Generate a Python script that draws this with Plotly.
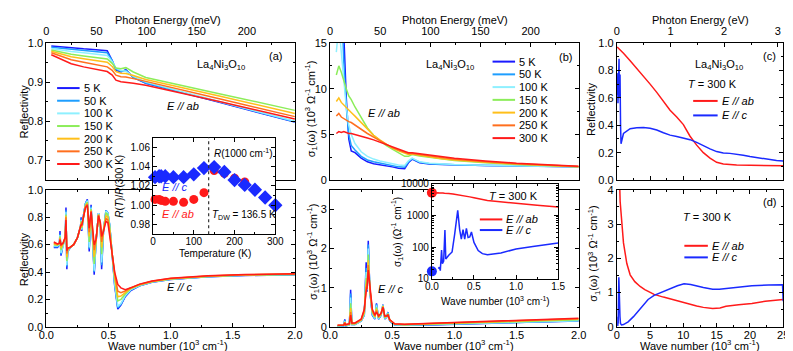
import plotly.graph_objects as go

FIG_W, FIG_H = 793, 351
FONT = "Liberation Sans, Arial, sans-serif"

TEMPS = ["5 K", "50 K", "100 K", "150 K", "200 K", "250 K", "300 K"]
T_COLORS = ["#1a1aff", "#1e9eff", "#8ef0ff", "#8ced5a", "#ffbf1a", "#ff6f1e", "#ff1a1a"]
RED = "#ff1a1a"
BLUE = "#1a2aff"

MEV_PER_KCM = 123.98   # 10^3 cm^-1 -> meV
EV_PER_KCM = 0.12398   # 10^3 cm^-1 -> eV

# ---------------- (a) top: reflectivity E // ab ----------------
RAB_X = [0.04, 0.1, 0.2, 0.3, 0.4, 0.49, 0.53, 0.56, 0.6, 0.64, 0.7, 0.8, 1.4, 2.0]
RAB_5K = [0.992, 0.990, 0.987, 0.985, 0.983, 0.980, 0.955, 0.930, 0.926, 0.932, 0.912, 0.897, 0.848, 0.798]
RAB_50K = [0.989, 0.987, 0.983, 0.980, 0.978, 0.975, 0.955, 0.933, 0.928, 0.930, 0.912, 0.898, 0.849, 0.799]
RAB_100K = [0.986, 0.983, 0.978, 0.975, 0.971, 0.968, 0.952, 0.936, 0.930, 0.928, 0.915, 0.900, 0.850, 0.800]
RAB_150K = [0.982, 0.978, 0.971, 0.967, 0.962, 0.959, 0.948, 0.936, 0.934, 0.937, 0.926, 0.912, 0.870, 0.828]
RAB_200K = [0.979, 0.974, 0.965, 0.960, 0.955, 0.951, 0.940, 0.927, 0.923, 0.922, 0.917, 0.907, 0.864, 0.820]
RAB_250K = [0.975, 0.969, 0.957, 0.951, 0.945, 0.939, 0.930, 0.918, 0.914, 0.913, 0.909, 0.902, 0.857, 0.812]
RAB_300K = [0.970, 0.962, 0.947, 0.939, 0.932, 0.927, 0.918, 0.905, 0.901, 0.900, 0.897, 0.892, 0.850, 0.806]
RAB = [RAB_5K, RAB_50K, RAB_100K, RAB_150K, RAB_200K, RAB_250K, RAB_300K]

# ---------------- (a) bottom: reflectivity E // c ----------------
RC_X = [0.06, 0.09, 0.105, 0.11, 0.118, 0.135, 0.152, 0.158, 0.165, 0.172, 0.19, 0.22, 0.25, 0.275,
        0.28, 0.285, 0.30, 0.315, 0.33, 0.345, 0.36, 0.385, 0.40, 0.42, 0.435, 0.445, 0.46, 0.48,
        0.495, 0.51, 0.53, 0.55, 0.575, 0.60, 0.635, 0.68, 0.75, 0.85, 1.0, 1.3, 1.6, 2.0]
RC_5K = [0.58, 0.58, 0.60, 0.70, 0.52, 0.60, 0.64, 0.87, 0.42, 0.55, 0.575, 0.60, 0.65, 0.73, 0.80, 0.70,
         0.82, 0.90, 0.93, 0.55, 0.89, 0.38, 0.62, 0.83, 0.72, 0.42, 0.70, 0.85, 0.83, 0.74, 0.52, 0.30,
         0.13, 0.16, 0.22, 0.265, 0.30, 0.325, 0.345, 0.365, 0.375, 0.38]
RC_50K = [0.585, 0.585, 0.60, 0.68, 0.53, 0.60, 0.64, 0.85, 0.44, 0.55, 0.575, 0.60, 0.65, 0.73, 0.79, 0.71,
          0.82, 0.90, 0.925, 0.57, 0.88, 0.40, 0.62, 0.83, 0.72, 0.45, 0.70, 0.85, 0.83, 0.745, 0.53, 0.31,
          0.14, 0.165, 0.225, 0.27, 0.30, 0.327, 0.347, 0.366, 0.376, 0.381]
RC_100K = [0.59, 0.59, 0.60, 0.67, 0.54, 0.60, 0.64, 0.84, 0.45, 0.555, 0.578, 0.60, 0.65, 0.73, 0.78, 0.71,
           0.82, 0.895, 0.92, 0.58, 0.87, 0.41, 0.62, 0.83, 0.72, 0.47, 0.70, 0.845, 0.83, 0.745, 0.53, 0.32,
           0.15, 0.17, 0.23, 0.272, 0.302, 0.328, 0.348, 0.367, 0.377, 0.382]
RC_150K = [0.60, 0.595, 0.605, 0.66, 0.56, 0.605, 0.645, 0.82, 0.48, 0.56, 0.58, 0.60, 0.65, 0.73, 0.77, 0.72,
           0.82, 0.89, 0.91, 0.62, 0.86, 0.46, 0.63, 0.82, 0.73, 0.53, 0.71, 0.83, 0.82, 0.73, 0.53, 0.35,
           0.19, 0.20, 0.24, 0.278, 0.305, 0.33, 0.35, 0.368, 0.378, 0.383]
RC_200K = [0.605, 0.60, 0.607, 0.65, 0.575, 0.607, 0.648, 0.81, 0.51, 0.565, 0.58, 0.60, 0.65, 0.725, 0.76, 0.73,
           0.81, 0.88, 0.90, 0.66, 0.85, 0.51, 0.63, 0.82, 0.74, 0.58, 0.71, 0.81, 0.80, 0.71, 0.53, 0.37,
           0.22, 0.225, 0.25, 0.282, 0.307, 0.331, 0.352, 0.37, 0.38, 0.385]
RC_250K = [0.612, 0.603, 0.608, 0.642, 0.59, 0.61, 0.652, 0.80, 0.535, 0.57, 0.58, 0.60, 0.65, 0.72, 0.75, 0.74,
           0.80, 0.875, 0.895, 0.69, 0.845, 0.56, 0.635, 0.815, 0.75, 0.62, 0.70, 0.79, 0.78, 0.69, 0.53, 0.39,
           0.26, 0.25, 0.262, 0.287, 0.31, 0.333, 0.354, 0.372, 0.381, 0.386]
RC_300K = [0.62, 0.605, 0.61, 0.635, 0.60, 0.612, 0.655, 0.78, 0.555, 0.575, 0.58, 0.60, 0.65, 0.72, 0.745, 0.74,
           0.80, 0.87, 0.885, 0.72, 0.84, 0.60, 0.64, 0.81, 0.76, 0.66, 0.70, 0.77, 0.76, 0.66, 0.53, 0.40,
           0.31, 0.285, 0.272, 0.285, 0.312, 0.335, 0.355, 0.373, 0.382, 0.387]
RC = [RC_5K, RC_50K, RC_100K, RC_150K, RC_200K, RC_250K, RC_300K]

# ---------------- (a) inset: R(T)/R(300 K) at 1000 cm-1 ----------------
INS_T = [5, 15, 20, 30, 50, 75, 100, 125, 150, 175, 200, 225, 250, 275, 300]
INS_AB = [1.006, 1.006, 1.005, 1.004, 1.004, 1.003, 1.006, 1.013, 1.036, 1.033, 1.028, 1.024, 1.016, 1.008, 1.000]
INS_C = [1.029, 1.030, 1.030, 1.030, 1.029, 1.029, 1.032, 1.0385, 1.0395, 1.0345, 1.026, 1.021, 1.016, 1.008, 1.000]
T_DW = 136.5

# ---------------- (b) top: sigma1 E // ab (10^3 Ohm^-1 cm^-1) ----------------
SAB_X = [0.05, 0.07, 0.09, 0.11, 0.13, 0.15, 0.17, 0.2, 0.25, 0.3, 0.35, 0.4, 0.45, 0.5, 0.55, 0.6,
         0.63, 0.66, 0.72, 0.8, 0.9, 1.0, 1.25, 1.5, 2.0]
SAB_5K = [40, 32, 22, 16, 9.0, 4.5, 3.2, 3.0, 2.4, 2.0, 1.8, 1.7, 1.6, 1.45, 1.3, 1.25, 1.9, 2.3, 1.9,
          1.75, 1.7, 1.65, 1.6, 1.55, 1.45]
SAB_50K = [35, 28, 19, 13, 8.0, 5.0, 3.8, 3.3, 2.6, 2.2, 2.0, 1.85, 1.75, 1.6, 1.45, 1.4, 2.0, 2.35, 1.95,
           1.8, 1.72, 1.67, 1.6, 1.55, 1.45]
SAB_100K = [14, 17, 14, 11, 8.0, 6.0, 5.0, 4.0, 3.1, 2.6, 2.3, 2.1, 1.95, 1.8, 1.65, 1.6, 2.1, 2.4, 2.0,
            1.85, 1.75, 1.7, 1.62, 1.56, 1.46]
SAB_150K = [11.5, 12.5, 11.8, 10.8, 10.0, 9.2, 8.8, 8.0, 6.8, 5.7, 4.9, 4.3, 3.8, 3.4, 3.0, 2.6, 2.6, 2.8,
            2.65, 2.5, 2.3, 2.15, 1.9, 1.7, 1.45]
SAB_200K = [8.6, 9.0, 8.5, 8.2, 8.0, 7.7, 7.4, 7.0, 6.3, 5.6, 4.9, 4.4, 3.9, 3.5, 3.2, 2.9, 2.8, 2.85,
            2.75, 2.55, 2.35, 2.2, 1.95, 1.75, 1.47]
SAB_250K = [7.0, 7.3, 6.9, 6.7, 6.5, 6.4, 6.3, 6.0, 5.6, 5.1, 4.7, 4.3, 3.9, 3.55, 3.3, 3.0, 2.9, 2.9,
            2.8, 2.62, 2.42, 2.27, 2.0, 1.8, 1.5]
SAB_300K = [5.1, 5.3, 5.2, 5.3, 5.2, 5.1, 5.1, 5.0, 4.8, 4.6, 4.4, 4.15, 3.9, 3.65, 3.4, 3.15, 3.0, 3.0,
            2.9, 2.75, 2.55, 2.4, 2.1, 1.85, 1.52]
SAB = [SAB_5K, SAB_50K, SAB_100K, SAB_150K, SAB_200K, SAB_250K, SAB_300K]

# ---------------- (b) bottom: sigma1 E // c ----------------
SC_X = [0.06, 0.11, 0.118, 0.125, 0.155, 0.165, 0.175, 0.2, 0.25, 0.275, 0.29, 0.297, 0.307, 0.32, 0.34,
        0.36, 0.373, 0.39, 0.41, 0.425, 0.44, 0.455, 0.465, 0.48, 0.52, 0.6, 0.8, 1.0, 1.5, 2.0]
SC_5K = [0.02, 0.03, 0.19, 0.03, 0.05, 0.95, 0.06, 0.06, 0.15, 0.3, 1.65, 0.9, 2.2, 0.9, 0.3, 0.2, 0.6,
         0.2, 0.3, 0.57, 0.2, 0.25, 0.38, 0.15, 0.05, 0.04, 0.05, 0.07, 0.11, 0.15]
SC_50K = [0.02, 0.03, 0.17, 0.03, 0.05, 0.85, 0.06, 0.06, 0.15, 0.31, 1.5, 0.92, 2.1, 0.92, 0.31, 0.21,
          0.58, 0.2, 0.3, 0.56, 0.21, 0.25, 0.37, 0.15, 0.05, 0.045, 0.055, 0.075, 0.115, 0.155]
SC_100K = [0.025, 0.035, 0.15, 0.035, 0.055, 0.75, 0.065, 0.065, 0.16, 0.32, 1.4, 0.95, 2.0, 0.93, 0.33,
           0.22, 0.55, 0.21, 0.31, 0.55, 0.22, 0.26, 0.36, 0.16, 0.055, 0.05, 0.06, 0.08, 0.12, 0.16]
SC_150K = [0.03, 0.04, 0.13, 0.045, 0.06, 0.6, 0.075, 0.075, 0.17, 0.35, 1.25, 0.97, 1.85, 0.95, 0.36,
           0.24, 0.5, 0.23, 0.32, 0.54, 0.24, 0.27, 0.34, 0.17, 0.065, 0.055, 0.07, 0.09, 0.14, 0.18]
SC_200K = [0.035, 0.045, 0.12, 0.05, 0.07, 0.48, 0.085, 0.085, 0.18, 0.38, 1.1, 0.98, 1.7, 0.97, 0.39,
           0.26, 0.46, 0.25, 0.33, 0.53, 0.26, 0.27, 0.32, 0.175, 0.07, 0.06, 0.08, 0.1, 0.155, 0.2]
SC_250K = [0.04, 0.05, 0.11, 0.055, 0.075, 0.38, 0.09, 0.09, 0.19, 0.42, 1.0, 0.99, 1.58, 0.98, 0.42,
           0.28, 0.42, 0.27, 0.34, 0.51, 0.27, 0.28, 0.31, 0.18, 0.075, 0.065, 0.085, 0.105, 0.165, 0.21]
SC_300K = [0.04, 0.05, 0.1, 0.06, 0.08, 0.3, 0.1, 0.1, 0.2, 0.45, 0.9, 1.0, 1.45, 1.0, 0.45, 0.3, 0.38,
           0.28, 0.35, 0.5, 0.28, 0.28, 0.3, 0.18, 0.08, 0.07, 0.09, 0.11, 0.17, 0.22]
SC = [SC_5K, SC_50K, SC_100K, SC_150K, SC_200K, SC_250K, SC_300K]

# ---------------- (b) inset: sigma1 at 300 K, log scale (Ohm^-1 cm^-1) ----------------
SIG_DC_AB = 5300
SIG_DC_C = 17
SCI_X = [0.075, 0.09, 0.1, 0.115, 0.125, 0.14, 0.155, 0.165, 0.2, 0.24, 0.27, 0.29, 0.307, 0.33, 0.35,
         0.37, 0.39, 0.41, 0.43, 0.45, 0.47, 0.5, 0.55, 0.6, 0.66, 0.82, 1.0, 1.2, 1.5]
SCI_Y = [21, 23, 18, 80, 30, 36, 350, 42, 55, 70, 250, 800, 1450, 360, 180, 360, 180, 390, 200, 210,
         300, 140, 78, 62, 57, 65, 87, 105, 135]

# ---------------- (c) reflectivity at 300 K, 0-25 x10^3 cm-1 ----------------
C_AB_X = [0.05, 0.5, 1, 2, 3, 4, 5, 6, 7, 8, 9, 10, 11, 12, 13, 14, 15, 16, 18, 20, 22, 24, 25]
C_AB_R = [0.97, 0.95, 0.925, 0.87, 0.815, 0.76, 0.70, 0.64, 0.575, 0.51, 0.46, 0.405, 0.32, 0.255, 0.2,
          0.16, 0.13, 0.117, 0.11, 0.108, 0.105, 0.102, 0.105]
C_C_X = [0.06, 0.16, 0.17, 0.33, 0.38, 0.48, 0.56, 0.63, 1.0, 2, 3, 4, 5, 6, 7, 8, 9, 10, 11, 12, 13, 14,
         15, 16, 17, 18, 19, 20, 21, 22, 23, 24, 25]
C_C_R = [0.62, 0.78, 0.56, 0.885, 0.60, 0.77, 0.40, 0.265, 0.34, 0.375, 0.382, 0.383, 0.378, 0.365, 0.345,
         0.328, 0.318, 0.308, 0.295, 0.275, 0.25, 0.228, 0.208, 0.198, 0.195, 0.19, 0.182, 0.172, 0.165,
         0.157, 0.148, 0.143, 0.14]

# ---------------- (d) sigma1 at 300 K, 0-25 x10^3 cm-1 ----------------
D_AB_X = [0.05, 0.3, 0.5, 0.75, 1.0, 1.5, 2.0, 2.7, 3.5, 4.2, 5.6, 7, 8.1, 9.5, 10.5, 12, 13, 14.4, 15.5,
          16.4, 18.3, 20.3, 22.3, 24, 25]
D_AB_S = [5.2, 5.0, 3.65, 3.0, 2.45, 1.85, 1.52, 1.32, 1.18, 1.09, 0.95, 0.87, 0.81, 0.73, 0.67, 0.61,
          0.57, 0.54, 0.55, 0.6, 0.65, 0.68, 0.75, 0.77, 0.8]
D_C_X = [0.06, 0.15, 0.17, 0.2, 0.3, 0.37, 0.42, 0.47, 0.55, 0.7, 1.0, 1.7, 2.5, 3.2, 4.0, 4.7, 5.6, 7.1,
         9.1, 10.1, 11.1, 13, 14.4, 15.4, 17.9, 20.3, 22.8, 24.9, 25]
D_C_S = [0.04, 0.05, 0.3, 0.1, 1.45, 0.3, 0.5, 0.3, 0.1, 0.06, 0.07, 0.15, 0.3, 0.47, 0.64, 0.8, 0.92,
         1.05, 1.2, 1.26, 1.24, 1.15, 1.1, 1.1, 1.16, 1.2, 1.22, 1.23, 0.75]


# ---------------- helpers (pixel -> paper) ----------------
def fx(px):
    return px / FIG_W


def fy(py):
    return 1 - py / FIG_H


A_X = [fx(31), fx(285)]
B_X = [fx(321), fx(575)]
C_X = [fx(614), fx(784)]
UP_Y = [fy(172), fy(30)]
LO_Y = [fy(324), fy(182)]
INA_X = [fx(140), fx(265)]
INA_Y = [fy(228), fy(128)]
INB_X = [fx(425), fx(554)]
INB_Y = [fy(274), fy(176)]

TICK_FONT = dict(family=FONT, size=11, color="black")
INSET_TICK_FONT = dict(family=FONT, size=10, color="black")


def axis(minor_dtick=None, font=TICK_FONT, **kw):
    d = dict(showline=True, linecolor="black", linewidth=1, ticks="inside", ticklen=4,
             tickwidth=1, tickcolor="black", showgrid=False, zeroline=False, tickfont=font,
             mirror="ticks")
    if minor_dtick is not None:
        d["minor"] = dict(ticks="inside", ticklen=2, tickcolor="black", dtick=minor_dtick, showgrid=False)
    d.update(kw)
    return d


fig = go.Figure()


def line(x, y, xa, ya, color, name, width=1.5):
    fig.add_trace(go.Scatter(x=x, y=y, xaxis=xa, yaxis=ya, mode="lines", name=name,
                             line=dict(color=color, width=width), showlegend=False))


for i in range(7):
    line(RAB_X, RAB[i], "x", "y", T_COLORS[i], TEMPS[i])
for i in range(7):
    line(RC_X, RC[i], "x2", "y2", T_COLORS[i], TEMPS[i])
for i in range(7):
    line(SAB_X, SAB[i], "x3", "y3", T_COLORS[i], TEMPS[i])
for i in range(7):
    line(SC_X, SC[i], "x4", "y4", T_COLORS[i], TEMPS[i])

line(C_AB_X, C_AB_R, "x5", "y5", RED, "E // ab")
line(C_C_X, C_C_R, "x5", "y5", BLUE, "E // c")
line(D_AB_X, D_AB_S, "x6", "y6", RED, "E // ab")
line(D_C_X, D_C_S, "x6", "y6", BLUE, "E // c")

# inset (a)
fig.add_trace(go.Scatter(x=INS_T, y=INS_AB, xaxis="x7", yaxis="y7", mode="markers", cliponaxis=False,
                         marker=dict(symbol="circle", size=9, color=RED), showlegend=False, name="E // ab"))
fig.add_trace(go.Scatter(x=INS_T, y=INS_C, xaxis="x7", yaxis="y7", mode="markers", cliponaxis=False,
                         marker=dict(symbol="diamond", size=11, color=BLUE), showlegend=False, name="E // c"))

# inset (b)
line(SAB_X, [v * 1000 for v in SAB_300K], "x8", "y8", RED, "E // ab")
line(SCI_X, SCI_Y, "x8", "y8", BLUE, "E // c")
fig.add_trace(go.Scatter(x=[0, 0], y=[SIG_DC_AB, SIG_DC_C], xaxis="x8", yaxis="y8", mode="markers",
                         cliponaxis=False, marker=dict(size=10, color=[RED, BLUE]), showlegend=False))

# empty traces so the photon-energy top axes are drawn
for xa, ya in (("x9", "y"), ("x10", "y3"), ("x11", "y5")):
    fig.add_trace(go.Scatter(x=[None], y=[None], xaxis=xa, yaxis=ya, showlegend=False, hoverinfo="skip"))

top_kw = dict(side="top", mirror=False, ticklabelstandoff=3)
bot_kw = dict(ticklabelstandoff=-2)

fig.update_layout(
    xaxis=axis(0.25, domain=A_X, anchor="y", range=[0, 2], dtick=0.5, showticklabels=False, mirror=True),
    yaxis=axis(0.05, domain=UP_Y, anchor="x", range=[0.65, 1.0], dtick=0.1, tickformat=".1f"),
    xaxis2=axis(0.25, domain=A_X, anchor="y2", range=[0, 2], dtick=0.5, tickformat=".1f", **bot_kw),
    yaxis2=axis(0.1, domain=LO_Y, anchor="x2", range=[0, 1.0], dtick=0.2, tickformat=".1f"),
    xaxis3=axis(0.25, domain=B_X, anchor="y3", range=[0, 2], dtick=0.5, showticklabels=False, mirror=True),
    yaxis3=axis(2.5, domain=UP_Y, anchor="x3", range=[0, 15], dtick=5),
    xaxis4=axis(0.25, domain=B_X, anchor="y4", range=[0, 2], dtick=0.5, tickformat=".1f", **bot_kw),
    yaxis4=axis(0.5, domain=LO_Y, anchor="x4", range=[0, 3.5], dtick=1),
    xaxis5=axis(2.5, domain=C_X, anchor="y5", range=[0, 25], dtick=5, showticklabels=False, mirror=True),
    yaxis5=axis(0.1, domain=UP_Y, anchor="x5", range=[0, 1.0], dtick=0.2, tickformat=".1f"),
    xaxis6=axis(2.5, domain=C_X, anchor="y6", range=[0, 25], dtick=5, **bot_kw),
    yaxis6=axis(0.5, domain=LO_Y, anchor="x6", range=[0, 4], dtick=1),
    xaxis7=axis(50, INSET_TICK_FONT, domain=INA_X, anchor="y7", range=[0, 300], dtick=100, **bot_kw),
    yaxis7=axis(0.01, INSET_TICK_FONT, domain=INA_Y, anchor="x7", range=[0.97, 1.07], dtick=0.02,
                tickformat=".2f"),
    xaxis8=axis(0.25, INSET_TICK_FONT, domain=INB_X, anchor="y8", range=[0, 1.5], dtick=0.5,
                tickformat=".1f", **bot_kw),
    yaxis8=axis("D1", INSET_TICK_FONT, domain=INB_Y, anchor="x8", type="log", range=[1, 4],
                tickvals=[10, 100, 1000, 10000], ticktext=["10", "100", "1000", "10000"]),
    xaxis9=axis(25, overlaying="x", anchor="y", range=[0, 2 * MEV_PER_KCM], dtick=50, **top_kw),
    xaxis10=axis(25, overlaying="x3", anchor="y3", range=[0, 2 * MEV_PER_KCM], dtick=50, **top_kw),
    xaxis11=axis(0.5, overlaying="x5", anchor="y5", range=[0, 25 * EV_PER_KCM], dtick=1, **top_kw),
)

# ---------------- text and legend keys ----------------
annotations = []
shapes = []


def text(px, py, s, color="black", size=11, angle=0, xanchor="center"):
    annotations.append(dict(x=fx(px), y=fy(py), xref="paper", yref="paper", text=s, showarrow=False,
                            textangle=angle, xanchor=xanchor, yanchor="middle", borderpad=0,
                            font=dict(family=FONT, size=size, color=color)))


def key(x0, x1, py, color, label):
    shapes.append(dict(type="line", xref="paper", yref="paper", x0=fx(x0), x1=fx(x1), y0=fy(py), y1=fy(py),
                       line=dict(color=color, width=2)))
    text(x1 + 3, py, label, xanchor="left")


LANO = "La<sub>4</sub>Ni<sub>3</sub>O<sub>10</sub>"
SIGMA = "σ<sub>1</sub>(ω) (10<sup>3</sup> Ω<sup>-1</sup> cm<sup>-1</sup>)"
WAVE = "Wave number (10<sup>3</sup> cm<sup>-1</sup>)"
E_AB = "<i>E // ab</i>"
E_C = "<i>E // c</i>"
T300 = "<i>T</i> = 300 K"

# axis titles
text(155, 6, "Photon Energy (meV)")
text(449, 6, "Photon Energy (meV)")
text(699, 6, "Photon Energy (eV)")
text(155, 343, WAVE)
text(448, 343, WAVE)
text(699, 343, WAVE)
text(8, 101, "Reflectivity", angle=-90)
text(8, 254, "Reflectivity", angle=-90)
text(301, 98, SIGMA, angle=-90)
text(303, 246, SIGMA, angle=-90)
text(587, 98, "Reflectivity", angle=-90)
text(590, 248, SIGMA, angle=-90)

# panel (a)
text(265, 43, "(a)")
text(210, 53, LANO)
text(171, 95, E_AB)
text(168, 283, E_C)
for i in range(7):
    key(42, 65, 76.7 + 13.1 * i, T_COLORS[i], TEMPS[i])
# inset (a)
text(106, 178, "<i>R</i>(<i>T</i>)/<i>R</i>(300 K)", size=10, angle=-90)
text(203, 248, "Temperature (K)", size=10)
text(148, 179, E_C, color=BLUE, xanchor="left")
text(148, 207, E_AB, color=RED, xanchor="left")
text(199, 208, "<i>T</i><sub>DW</sub> = 136.5 K", size=10, xanchor="left")
text(201, 144, "<i>R</i>(1000 cm<sup>-1</sup>)", size=10, xanchor="left")
shapes.append(dict(type="line", xref="x7", yref="y7 domain", x0=T_DW, x1=T_DW, y0=0, y1=1,
                   line=dict(color="#333333", width=1.2, dash="3px,3px")))

# panel (b)
text(562, 45, "(b)")
text(443, 53, LANO)
text(376, 103, E_AB)
text(383, 285, E_C)
for i in range(7):
    key(487, 510, 49.3 + 13.2 * i, T_COLORS[i], TEMPS[i])
# inset (b)
text(389, 226, "σ<sub>1</sub>(ω) (Ω<sup>-1</sup> cm<sup>-1</sup>)", size=10, angle=-90)
text(490, 297, WAVE, size=10)
text(508, 188, T300)
key(474, 497, 212.7, RED, E_AB)
key(474, 497, 223.7, BLUE, E_C)

# panel (c)
text(770, 43, "(c)")
text(718, 53, LANO)
text(712, 72, T300)
key(692, 717, 90, RED, E_AB)
key(692, 717, 105, BLUE, E_C)

# panel (d)
text(770, 195, "(d)")
text(707, 210, T300)
key(683, 707, 240, RED, E_AB)
key(683, 707, 252, BLUE, E_C)

fig.update_layout(
    width=FIG_W, height=FIG_H,
    margin=dict(l=0, r=0, t=0, b=0),
    paper_bgcolor="white", plot_bgcolor="white",
    font=dict(family=FONT, size=11, color="black"),
    showlegend=False,
    annotations=annotations,
    shapes=shapes,
)

fig.write_html("out.html")
